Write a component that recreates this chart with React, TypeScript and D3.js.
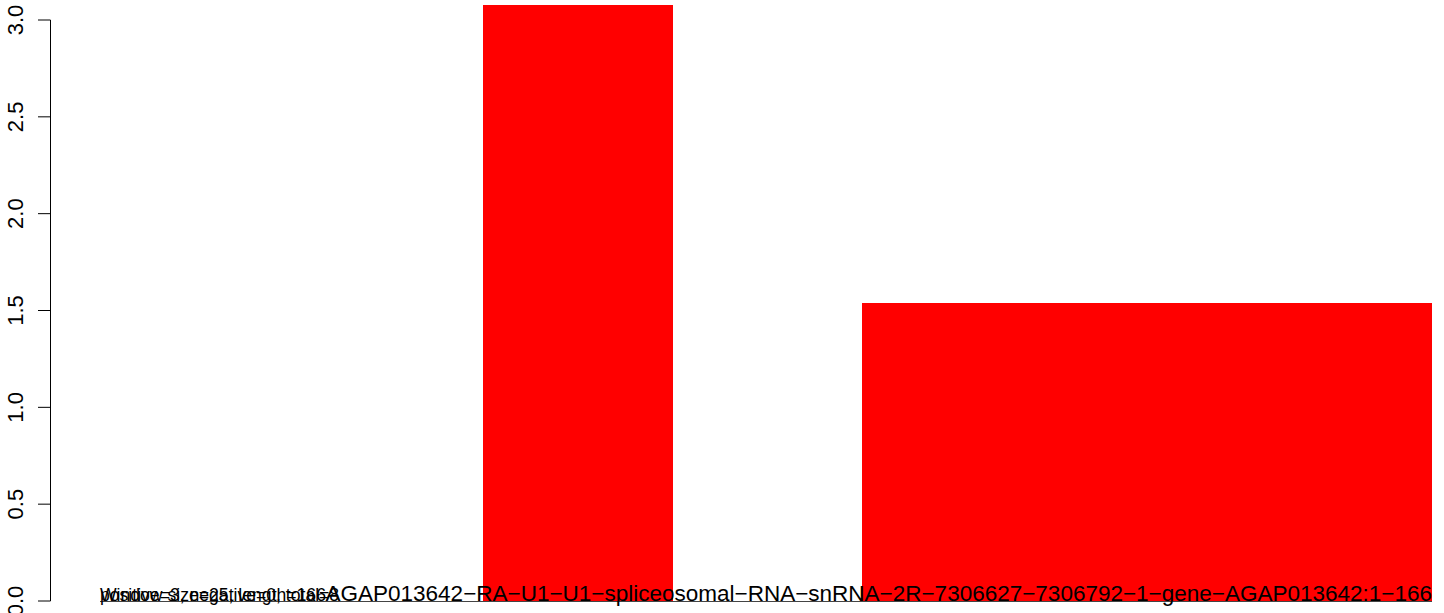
import React from "react";
import * as d3 from "d3";

const windows = ["w1", "w2", "w3", "w4", "w5", "w6", "w7"];
const values = [0, 0, 3.08, 0, 1.54, 1.54, 1.54];
const yTicks = [0, 0.5, 1.0, 1.5, 2.0, 2.5, 3.0];
const labelWindow = "Window size=25, length=166";
const labelCounts = "positive=3, negative=0, total=8";
const labelGene = "AGAP013642\u2212RA\u2212U1\u2212U1\u2212spliceosomal\u2212RNA\u2212snRNA\u22122R\u22127306627\u22127306792\u22121\u2212gene\u2212AGAP013642:1\u2212166";

const W = 1444;
const H = 613;

export default function App() {
  const x = d3.scaleLinear().domain([0, windows.length]).range([103, 1432]);
  const y = d3.scaleLinear().domain([0, 3]).range([601, 20]);
  const font = "'Liberation Sans', Arial, Helvetica, sans-serif";
  return (
    <svg
      width={W}
      height={H}
      style={{ position: "fixed", left: 0, top: 0, background: "#fff" }}
      fontFamily={font}
    >
      <line x1={x(0) - 3} x2={x(windows.length)} y1={y(0) + 0.5} y2={y(0) + 0.5} stroke="#444" strokeWidth={1} />
      {values.map((v, i) => {
        if (v <= 0) return null;
        const x0 = Math.round(x(i));
        const x1 = Math.round(x(i + 1));
        return (
          <rect
            key={windows[i]}
            x={x0}
            y={y(v)}
            width={x1 - x0}
            height={y(0) - y(v)}
            fill="#ff0000"
            shapeRendering="crispEdges"
          />
        );
      })}
      <line x1={50.5} x2={50.5} y1={y(0)} y2={y(3)} stroke="#000" strokeWidth={1} />
      {yTicks.map((t) => (
        <g key={t}>
          <line x1={38} x2={50.5} y1={y(t)} y2={y(t)} stroke="#000" strokeWidth={1} />
          <text
            transform={`translate(23,${y(t)}) rotate(-90)`}
            textAnchor="middle"
            fontSize={22}
            fill="#000"
          >
            {t.toFixed(1)}
          </text>
        </g>
      ))}
      <text x={100} y={601} fontSize={17.6} fill="#000">{labelWindow}</text>
      <text x={100} y={601} fontSize={17.6} fill="#000">{labelCounts}</text>
      <text x={1432} y={601} fontSize={22.5} fill="#000" textAnchor="end">{labelGene}</text>
    </svg>
  );
}
